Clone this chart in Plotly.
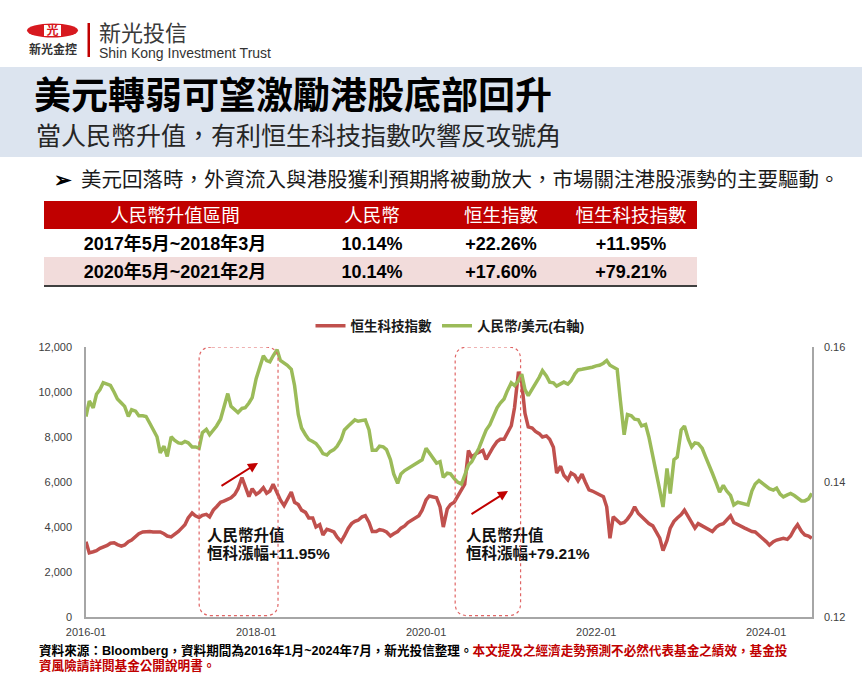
import pandas as pd
import plotly.graph_objects as go

W, H = 862, 674

# ---- chart data (semi-monthly readings, 2016-01 ~ 2024-07) ----
dates = pd.date_range("2016-01-01", periods=206, freq="SMS")

hstech = [
    3350, 2850, 2900, 2950, 3050, 3100, 3180, 3280, 3300, 3220, 3150, 3200,
    3350, 3420, 3550, 3700, 3780, 3800, 3800, 3780, 3760, 3780, 3700, 3600,
    3560, 3650, 3800, 3950, 4100, 4400, 4620, 4500, 4420, 4520, 4560, 4450,
    4750, 4900, 5100, 5150, 5250, 5300, 5450, 5700, 6200, 5800, 5350, 5700,
    5450, 5550, 5750, 5500, 5600, 5900, 5500, 5200, 4950, 5250, 5550, 5100,
    5000, 4750, 4650, 4400, 4400, 4000, 4100, 3650, 3900, 3850, 3780, 3550,
    3350, 3600, 3950, 4150, 4250, 4300, 4450, 4500, 4200, 3800, 3800, 3880,
    3850, 3780, 3600, 3700, 3800, 3950, 4050, 4200, 4300, 4380, 4500, 4750,
    5200, 5380, 5350, 5300, 4900, 4000, 4800, 5000, 5100, 5350, 5600, 5900,
    7400, 7100, 7250, 7300, 7400, 7000, 7300, 7550, 7800, 7900, 7900, 8150,
    8500, 9300, 10900, 10400, 9050, 8450, 8400, 8250, 8150, 8000, 8050, 7900,
    7550, 6400, 6700, 6300, 6100, 6400, 6300, 6050, 6350, 6000, 5650, 5600,
    5500, 5450, 5350, 4900, 3500, 4450, 4300, 4150, 4200, 4350, 4600, 4900,
    4600, 4450, 4300, 4150, 4050, 3800, 3500, 2950, 3400, 3950, 4250, 4400,
    4550, 4750, 4450, 4200, 3950, 4150, 4050, 3950, 3850, 3800, 4000, 4100,
    4150, 4300, 4500, 4200, 4100, 4000, 3950, 3880, 3800, 3780, 3650, 3500,
    3350, 3200, 3350, 3420, 3480, 3500, 3450, 3600, 3900, 4100, 3800, 3650,
    3600, 3500,
]

cny_usd = [
    0.1497, 0.1520, 0.1510, 0.1530, 0.1537, 0.1547, 0.1545, 0.1543, 0.1533, 0.1523, 0.1517, 0.1512,
    0.1497, 0.1507, 0.1505, 0.1498, 0.1498, 0.1497, 0.1487, 0.1477, 0.1467, 0.1443, 0.1453, 0.1438,
    0.1467, 0.1462, 0.1458, 0.1457, 0.1460, 0.1458, 0.1452, 0.1452, 0.1450, 0.1473, 0.1478, 0.1470,
    0.1477, 0.1483, 0.1493, 0.1510, 0.1531, 0.1512, 0.1507, 0.1503, 0.1509, 0.1510, 0.1517, 0.1525,
    0.1553, 0.1570, 0.1587, 0.1580, 0.1578, 0.1587, 0.1596, 0.1580, 0.1577, 0.1573, 0.1567, 0.1543,
    0.1500, 0.1480, 0.1470, 0.1463, 0.1460, 0.1457, 0.1450, 0.1442, 0.1440, 0.1445, 0.1448, 0.1453,
    0.1463, 0.1477, 0.1483, 0.1488, 0.1492, 0.1490, 0.1491, 0.1492, 0.1477, 0.1447, 0.1447, 0.1453,
    0.1452, 0.1448, 0.1433, 0.1412, 0.1398, 0.1412, 0.1417, 0.1420, 0.1425, 0.1427, 0.1430, 0.1433,
    0.1450, 0.1443, 0.1433, 0.1428, 0.1430, 0.1407, 0.1413, 0.1412, 0.1405, 0.1400, 0.1397, 0.1412,
    0.1425, 0.1430, 0.1440, 0.1450, 0.1465, 0.1477, 0.1485, 0.1497, 0.1510, 0.1517, 0.1523, 0.1535,
    0.1547, 0.1543, 0.1550, 0.1560, 0.1537, 0.1528, 0.1537, 0.1545, 0.1555, 0.1565, 0.1557, 0.1548,
    0.1547, 0.1542, 0.1545, 0.1548, 0.1545, 0.1550, 0.1560, 0.1566, 0.1567, 0.1568, 0.1568, 0.1570,
    0.1572, 0.1573, 0.1576, 0.1580, 0.1573, 0.1570, 0.1567, 0.1520, 0.1470, 0.1500, 0.1498, 0.1493,
    0.1492, 0.1483, 0.1485, 0.1467, 0.1440, 0.1417, 0.1388, 0.1363, 0.1420, 0.1383, 0.1433, 0.1437,
    0.1477, 0.1483, 0.1463, 0.1452, 0.1458, 0.1457, 0.1450, 0.1438, 0.1423, 0.1413, 0.1398, 0.1385,
    0.1395, 0.1387, 0.1380, 0.1366, 0.1370, 0.1369, 0.1368, 0.1366, 0.1387, 0.1397, 0.1402, 0.1398,
    0.1393, 0.1390, 0.1388, 0.1391, 0.1382, 0.1378, 0.1381, 0.1383, 0.1380, 0.1376, 0.1372, 0.1372,
    0.1375, 0.1383,
]

assert len(hstech) == len(dates) == len(cny_usd)

# appreciation periods (highlight boxes) and table
periods = [("2017-05-01", "2018-04-05"), ("2020-05-05", "2021-02-10")]
table_header = ["人民幣升值區間", "人民幣", "恒生指數", "恒生科技指數"]
table_rows = [
    ["2017年5月~2018年3月", "10.14%", "+22.26%", "+11.95%"],
    ["2020年5月~2021年2月", "10.14%", "+17.60%", "+79.21%"],
]

RED = "#c0504d"
GREEN = "#9bbb59"
DARKRED = "#c00000"
MIX = "Arial, 'Liberation Sans', 'Noto Sans CJK TC', sans-serif"


def px(x):
    return x / W


def py(y):
    return 1 - y / H


fig = go.Figure()
fig.add_trace(go.Scatter(x=dates, y=hstech, name="恒生科技指數", mode="lines",
                         line=dict(color=RED, width=3.5)))
fig.add_trace(go.Scatter(x=dates, y=cny_usd, name="人民幣/美元(右軸)", mode="lines",
                         line=dict(color=GREEN, width=3.5), yaxis="y2"))


def add_text(x, y, text, size, color="#000000", anchor="left", weight="normal", family=MIX):
    # slide text drawn on a hidden pixel-space axis pair (x3 / y3)
    pos = {"left": "middle right", "center": "middle center"}[anchor]
    fig.add_trace(go.Scatter(x=[x], y=[y + 0.12 * size], mode="text", text=[text], textposition=pos,
                             textfont=dict(family=family, size=size, color=color, weight=weight),
                             xaxis="x3", yaxis="y3", showlegend=False, hoverinfo="skip"))


shapes = []
annos = []


def rect(x0, x1, y0, y1, color):
    shapes.append(dict(type="rect", xref="paper", yref="paper", x0=px(x0), x1=px(x1), y0=py(y1), y1=py(y0),
                       fillcolor=color, line=dict(width=0), layer="below"))


# title band
rect(0, W, 67, 157, "#dce4ef")

# logo
shapes.append(dict(type="circle", xref="paper", yref="paper", x0=px(27), x1=px(78), y0=py(37.5), y1=py(23.5),
                   fillcolor="#d7191f", line=dict(width=0), layer="below"))
rect(44, 61, 25, 36, "white")
rect(87.5, 90, 23, 57, DARKRED)
add_text(52.5, 30.5, "光", 12, "#d7191f", "center", "bold")
add_text(53, 50, "新光金控", 12, "#333333", "center", "bold")
add_text(99, 33, "新光投信", 22, "#3a3a3a")
add_text(99, 52.5, "Shin Kong Investment Trust", 14, "#333333",
         family="'Liberation Sans Narrow', Arial, sans-serif")

# titles
add_text(34, 95, "美元轉弱可望激勵港股底部回升", 37, "#000000", weight="bold")
add_text(36, 136, "當人民幣升值，有利恒生科技指數吹響反攻號角", 25, "#262626")
add_text(54, 179, "➢", 21, "#000000", weight="bold")
add_text(81, 179, "美元回落時，外資流入與港股獲利預期將被動放大，市場關注港股漲勢的主要驅動。", 20.5, "#1a1a1a")

# table
col_x = [175, 372, 501, 631]
row_y = [(201, 229), (229, 257), (257, 285)]
rect(44, 697, row_y[0][0], row_y[0][1], DARKRED)
rect(44, 697, row_y[2][0], row_y[2][1], "#f2dcdb")
shapes.append(dict(type="line", xref="paper", yref="paper", x0=px(44), x1=px(697),
                   y0=py(286), y1=py(286), line=dict(color="#3f3f3f", width=2), layer="below"))
for cx, label in zip(col_x, table_header):
    add_text(cx, sum(row_y[0]) / 2, label, 18.5, "white", "center")
for (top, bot), row in zip(row_y[1:], table_rows):
    for cx, cell in zip(col_x, row):
        add_text(cx, (top + bot) / 2, cell, 18, "#000000", "center", "bold")

# highlight boxes (rounded, dotted) in data coordinates
rx = pd.Timedelta(days=55)
ry_top, ry_bot = 12000, 60
ry = 560
for start, end in periods:
    x0, x1 = pd.Timestamp(start), pd.Timestamp(end)
    f = lambda t: t.strftime("%Y-%m-%d")
    path = (f"M {f(x0 + rx)},{ry_top} L {f(x1 - rx)},{ry_top} "
            f"Q {f(x1)},{ry_top} {f(x1)},{ry_top - ry} L {f(x1)},{ry_bot + ry} "
            f"Q {f(x1)},{ry_bot} {f(x1 - rx)},{ry_bot} L {f(x0 + rx)},{ry_bot} "
            f"Q {f(x0)},{ry_bot} {f(x0)},{ry_bot + ry} L {f(x0)},{ry_top - ry} "
            f"Q {f(x0)},{ry_top} {f(x0 + rx)},{ry_top} Z")
    shapes.append(dict(type="path", xref="x", yref="y", path=path,
                       line=dict(color="#e06666", width=1.2, dash="dot")))

# arrows + labels
arrow_heads = [("2018-01-09", 6850), ("2020-12-18", 5600)]
label_x = [207, 466]
for (hx, hy), lx, row in zip(arrow_heads, label_x, table_rows):
    annos.append(dict(x=hx, y=hy, xref="x", yref="y", text="", showarrow=True, ax=-38, ay=24,
                      arrowhead=2, arrowsize=1, arrowwidth=2, arrowcolor=DARKRED))
    add_text(lx, 535, "人民幣升值", 15.5, "#111111", weight="bold")
    add_text(lx, 553, f"恒科漲幅{row[3]}", 15.5, "#111111", weight="bold")

# footer
add_text(39, 650, "資料來源：Bloomberg，資料期間為2016年1月~2024年7月，新光投信整理。"
                  "<span style='color:#c00000'>本文提及之經濟走勢預測不必然代表基金之績效，基金投</span>",
         12.6, "#000000", weight="bold")
add_text(39, 665, "資風險請詳閱基金公開說明書。", 12.6, DARKRED, weight="bold")

tick_font = dict(family="Arial, 'Liberation Sans', sans-serif", size=11, color="#404040")
x_dom = [px(86), px(812)]
y_dom = [py(617), py(347)]
axis_common = dict(showgrid=False, zeroline=False, showline=True, linecolor="#a6a6a6", linewidth=1.5,
                   ticks="", tickfont=tick_font, automargin=False)

fig.update_layout(
    template="none",
    width=W, height=H, autosize=False,
    margin=dict(l=0, r=0, t=0, b=0, pad=0, autoexpand=False),
    paper_bgcolor="white", plot_bgcolor="rgba(0,0,0,0)",
    showlegend=True,
    legend=dict(orientation="h", x=px(450), xanchor="center", y=py(326), yanchor="middle",
                font=dict(family=MIX, size=13.5, color="#1a1a1a", weight="bold"),
                bgcolor="rgba(0,0,0,0)", itemwidth=30),
    xaxis=dict(domain=x_dom, type="date", range=["2016-01-01", "2024-07-16"],
               tick0="2016-01-01", dtick="M24", tickformat="%Y-%m",
               ticklabelstandoff=4, **axis_common),
    yaxis=dict(domain=y_dom, range=[0, 12000], dtick=2000, tickformat=",d",
               ticklabelstandoff=10, **axis_common),
    yaxis2=dict(domain=y_dom, range=[0.12, 0.16], dtick=0.02, tickformat=".2f",
                overlaying="y", side="right", anchor="x",
                ticklabelstandoff=8, **axis_common),
    xaxis3=dict(domain=[0, 1], range=[0, W], visible=False, anchor="y3", fixedrange=True),
    yaxis3=dict(domain=[0, 1], range=[H, 0], visible=False, anchor="x3", fixedrange=True),
    shapes=shapes,
    annotations=annos,
)

fig.write_html("out.html", config={"displayModeBar": False},
               post_script="document.body.style.margin='0px';")
